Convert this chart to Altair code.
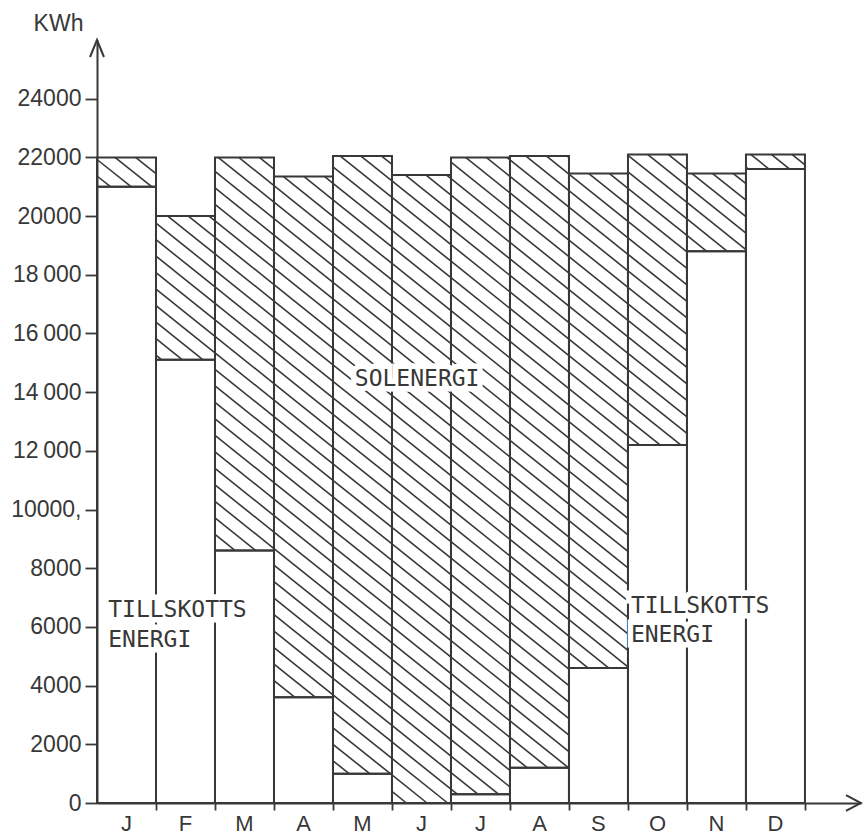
import altair as alt
import pandas as pd
import numpy as np

# ---- data ----
months = ["J", "F", "M", "A", "M", "J", "J", "A", "S", "O", "N", "D"]
tillskott = [21000, 15100, 8600, 3600, 1000, 0, 300, 1200, 4600, 12200, 18800, 21600]
solenergi = [1000, 4900, 13400, 17750, 21050, 21400, 21700, 20850, 16850, 9900, 2650, 500]

y_ticks = [0, 2000, 4000, 6000, 8000, 10000, 12000, 14000, 16000, 18000, 20000, 22000, 24000]
y_tick_labels = ["0", "2000", "4000", "6000", "8000", "10000,", "12\u2009000", "14\u2009000",
                 "16\u2009000", "18\u2009000", "20000", "22000", "24000"]

ann_text = ["TILLSKOTTS", "ENERGI", "SOLENERGI", "TILLSKOTTS", "ENERGI"]
ann_x = [0.19, 0.19, 4.37, 9.05, 9.05]
ann_y = [6590, 5570, 14460, 6730, 5710]

# ---- layout / style constants ----
X_MAX = 12.95
Y_MAX = 26000
WIDTH = 764
HEIGHT = 763
INK = "#383838"
FONT = "Liberation Sans"
MONO = "DejaVu Sans Mono"
HATCH_SLOPE_PX = 0.8      # pixel slope of hatch lines (down-right)
HATCH_GAP_PX = 16.5       # vertical gap between hatch lines, pixels

px_month = WIDTH / X_MAX
px_kwh = HEIGHT / Y_MAX
k = HATCH_SLOPE_PX * px_month / px_kwh      # kWh drop per month
gap = HATCH_GAP_PX / px_kwh                  # kWh between lines

idx = np.arange(len(months))
bars = pd.DataFrame({
    "month": months,
    "start": idx,
    "end": idx + 1,
    "till": tillskott,
    "total": np.array(tillskott) + np.array(solenergi),
})

# hatch segments, clipped to each solar block
segs = []
for _, r in bars.iterrows():
    x0, x1, y0, y1 = r["start"], r["end"], r["till"], r["total"]
    if y1 <= y0:
        continue
    n_lo = int(np.floor((y0 + k * x0) / gap))
    n_hi = int(np.ceil((y1 + k * x1) / gap))
    for n in range(n_lo, n_hi + 1):
        c = n * gap
        lo = max(x0, (c - y1) / k)
        hi = min(x1, (c - y0) / k)
        if hi - lo > 1e-3:
            segs.append({"x": lo, "x2": hi, "y": c - k * lo, "y2": c - k * hi})
hatch = pd.DataFrame(segs)

labels_df = pd.DataFrame({"m": months, "pos": idx + 0.5, "zero": 0})
ann = pd.DataFrame({"text": ann_text, "x": ann_x, "y": ann_y})
arrow_y = pd.DataFrame({"x": [0], "y": [Y_MAX]})
arrow_x = pd.DataFrame({"x": [X_MAX], "y": [0]})

xs = alt.Scale(domain=[0, X_MAX], nice=False, zero=False)
ys = alt.Scale(domain=[0, Y_MAX], nice=False)

expr = "''"
for v, lab in zip(reversed(y_ticks), reversed(y_tick_labels)):
    expr = f"datum.value == {v} ? '{lab}' : ({expr})"

y_axis = alt.Axis(values=y_ticks, labelExpr=expr, tickSize=12, labelPadding=4,
                  tickColor=INK, tickWidth=1.8, domainColor=INK, domainWidth=2,
                  labelFont=FONT, labelFontSize=23, labelColor=INK, grid=False,
                  title="KWh", titleAngle=0, titleFont=FONT, titleFontSize=23,
                  titleFontWeight="normal", titleColor=INK, titleX=-39, titleY=-17,
                  titleAlign="center", titleBaseline="middle")
x_axis = alt.Axis(values=list(range(1, 13)), tickSize=7, labels=False, title=None,
                  tickColor=INK, tickWidth=1.8, domainColor=INK, domainWidth=2, grid=False)

hatch_layer = alt.Chart(hatch).mark_rule(color=INK, strokeWidth=1.6).encode(
    x=alt.X("x:Q", scale=xs, axis=x_axis), x2="x2:Q",
    y=alt.Y("y:Q", scale=ys, axis=y_axis), y2="y2:Q")

sol_rect = alt.Chart(bars).mark_rect(fillOpacity=0, stroke=INK, strokeWidth=2).encode(
    x=alt.X("start:Q", scale=xs), x2="end:Q",
    y=alt.Y("till:Q", scale=ys), y2="total:Q")

till_rect = alt.Chart(bars).mark_rect(fillOpacity=0, stroke=INK, strokeWidth=2).encode(
    x=alt.X("start:Q", scale=xs), x2="end:Q",
    y=alt.Y("zero:Q", scale=ys), y2="till:Q").transform_calculate(zero="0")

halo = alt.Chart(ann).mark_text(align="left", baseline="middle", font=MONO, fontSize=23,
                                stroke="white", strokeWidth=11, fill="white").encode(
    x=alt.X("x:Q", scale=xs), y=alt.Y("y:Q", scale=ys), text="text:N")
ann_layer = alt.Chart(ann).mark_text(align="left", baseline="middle", font=MONO, fontSize=23,
                                     color=INK).encode(
    x=alt.X("x:Q", scale=xs), y=alt.Y("y:Q", scale=ys), text="text:N")

month_layer = alt.Chart(labels_df).mark_text(baseline="top", dy=11, font=FONT, fontSize=22,
                                             color=INK).encode(
    x=alt.X("pos:Q", scale=xs), y=alt.Y("zero:Q", scale=ys), text="m:N")

arr_y = alt.Chart(arrow_y).mark_point(shape="M-0.41,1L0,0L0.41,1", size=1156, filled=False,
                                      stroke=INK, strokeWidth=2, opacity=1).encode(
    x=alt.X("x:Q", scale=xs), y=alt.Y("y:Q", scale=ys))
arr_x = alt.Chart(arrow_x).mark_point(shape="M-1,-0.53L0,0L-1,0.53", size=900, filled=False,
                                      stroke=INK, strokeWidth=2, opacity=1).encode(
    x=alt.X("x:Q", scale=xs), y=alt.Y("y:Q", scale=ys))

chart = alt.layer(hatch_layer, sol_rect, till_rect, halo, ann_layer, month_layer,
                  arr_y, arr_x).properties(
    width=WIDTH, height=HEIGHT,
    autosize=alt.AutoSizeParams(type="none"),
    padding={"left": 97, "top": 40, "right": 2, "bottom": 33},
    background="white",
).configure_view(stroke=None)

chart.save("out.html", embed_options={"renderer": "svg", "actions": False})
